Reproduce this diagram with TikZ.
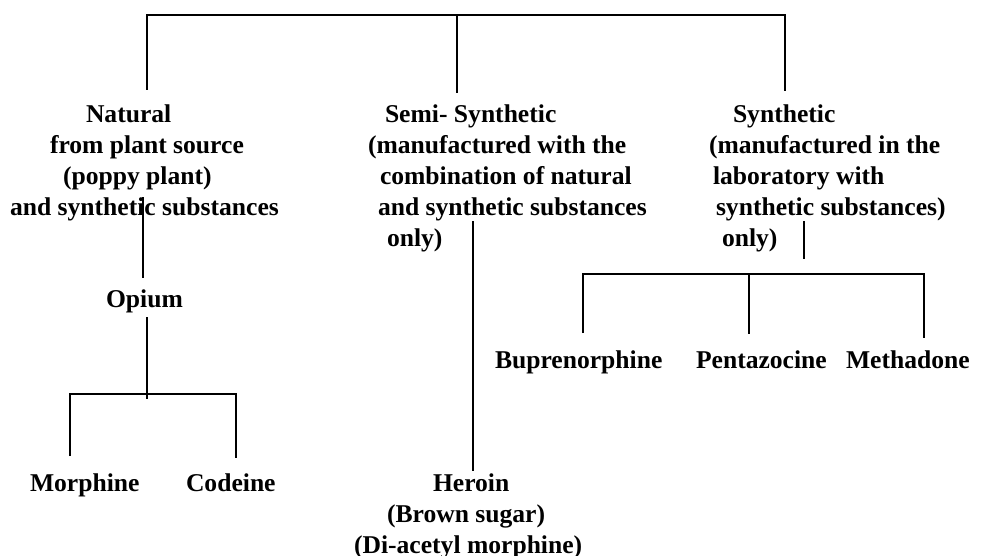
\documentclass[tikz,border=0pt]{standalone}
\usepackage{fontspec}
\setmainfont{Liberation Serif}
\tikzset{
  lbl/.style={inner sep=0pt, outer sep=0pt, anchor=base west, font=\bfseries\fontsize{25.6}{31}\selectfont},
  conn/.style={line width=2pt, black}
}
\newcommand{\blk}[1]{\begin{tabular}[t]{@{}l@{}}#1\end{tabular}}
\begin{document}
\begin{tikzpicture}[x=1pt,y=-1pt]
\useasboundingbox (0,0) rectangle (995,556);
% text nodes
\node[lbl] (nat) at (10,123) {\blk{\hspace*{76pt}Natural\\ \hspace*{40pt}from plant source\\ \hspace*{53pt}(poppy plant)\\ and synthetic substances}};
\node[lbl] (semi) at (368,123) {\blk{\hspace*{17pt}Semi- Synthetic\\ (manufactured with the\\ \hspace*{12pt}combination of natural\\ \hspace*{10pt}and synthetic substances\\ \hspace*{19pt}only)}};
\node[lbl] (syn) at (709,123) {\blk{\hspace*{24pt}Synthetic\\ (manufactured in the\\ \hspace*{4pt}laboratory with\\ \hspace*{7pt}synthetic substances)\\ \hspace*{13pt}only)}};
\node[lbl] (opium) at (106,307) {Opium};
\node[lbl] (morph) at (30,491) {Morphine};
\node[lbl] (cod) at (186,491) {Codeine};
\node[lbl] (her) at (354,491) {\blk{\hspace*{79pt}Heroin\\ \hspace*{33pt}(Brown sugar)\\ (Di-acetyl morphine)}};
\node[lbl] (bup) at (495,368) {Buprenorphine};
\node[lbl] (pen) at (696,368) {Pentazocine};
\node[lbl] (met) at (846,368) {Methadone};
% junction coordinates
\coordinate (tL) at (147,15);
\coordinate (tM) at (457,15);
\coordinate (tR) at (785,15);
\coordinate (natTop) at (147,90);
\coordinate (semiTop) at (457,93);
\coordinate (synTop) at (785,91);
\coordinate (natBot) at (143,197);
\coordinate (opTop) at (143,278);
\coordinate (opBot) at (147,317);
\coordinate (opJ) at (147,399);
\coordinate (mL) at (70,394);
\coordinate (mR) at (236,394);
\coordinate (mLb) at (70,456);
\coordinate (mRb) at (236,458);
\coordinate (semiBot) at (473,221);
\coordinate (herTop) at (473,471);
\coordinate (synBot) at (804,221);
\coordinate (synJ) at (804,259);
\coordinate (sL) at (583,274);
\coordinate (sM) at (749,274);
\coordinate (sR) at (924,274);
\coordinate (bL) at (583,333);
\coordinate (bM) at (749,334);
\coordinate (bR) at (924,338);
% connectors
\draw[conn] (natTop) -- (tL) -- (tR) -- (synTop);
\draw[conn] (tM) -- (semiTop);
\draw[conn] (natBot) -- (opTop);
\draw[conn] (opBot) -- (opJ);
\draw[conn] (mLb) -- (mL) -- (mR) -- (mRb);
\draw[conn] (semiBot) -- (herTop);
\draw[conn] (synBot) -- (synJ);
\draw[conn] (bL) -- (sL) -- (sR) -- (bR);
\draw[conn] (sM) -- (bM);
\end{tikzpicture}
\end{document}
